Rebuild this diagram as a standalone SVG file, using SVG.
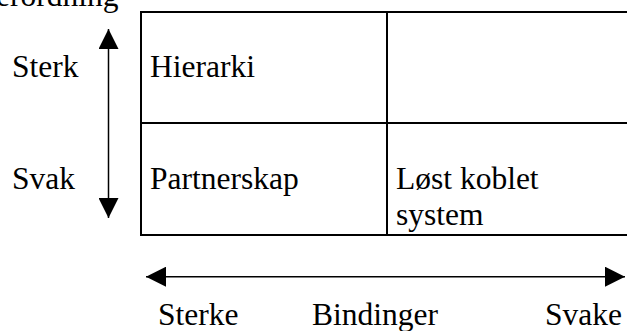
<svg xmlns="http://www.w3.org/2000/svg" width="627" height="331" viewBox="0 0 627 331">
  <style>
    .t { font-family: 'Liberation Serif', 'DejaVu Serif', serif; font-size: 31.5px; fill: #000; }
    .cell { fill: none; stroke: #000; stroke-width: 2; }
    .axis { fill: none; stroke: #000; stroke-width: 1.5; }
  </style>
  <defs>
    <marker id="head" viewBox="0 0 20 20" refX="20" refY="10" markerWidth="20" markerHeight="20" markerUnits="userSpaceOnUse" orient="auto-start-reverse">
      <path d="M0,0 L20,10 L0,20 Z" fill="#000"/>
    </marker>
  </defs>

  <!-- heading, cut by the top edge -->
  <text class="t" font-family="Liberation Serif, serif" x="-4" y="6">erordning</text>

  <!-- matrix cells -->
  <g id="cell-hierarki">
    <rect class="cell" x="141" y="12" width="246" height="111"/>
    <text class="t" font-family="Liberation Serif, serif" x="150" y="77">Hierarki</text>
  </g>
  <g id="cell-empty">
    <rect class="cell" x="387" y="12" width="260" height="111"/>
  </g>
  <g id="cell-partnerskap">
    <rect class="cell" x="141" y="123" width="246" height="112"/>
    <text class="t" font-family="Liberation Serif, serif" x="150" y="189">Partnerskap</text>
  </g>
  <g id="cell-lost-koblet">
    <rect class="cell" x="387" y="123" width="260" height="112"/>
    <text class="t" font-family="Liberation Serif, serif" x="396" y="189">Løst koblet</text>
    <text class="t" font-family="Liberation Serif, serif" x="396" y="225">system</text>
  </g>

  <!-- axis labels -->
  <g id="label-sterk"><text class="t" font-family="Liberation Serif, serif" x="12" y="77">Sterk</text></g>
  <g id="label-svak"><text class="t" font-family="Liberation Serif, serif" x="12" y="189">Svak</text></g>
  <g id="label-sterke"><text class="t" font-family="Liberation Serif, serif" x="158" y="325">Sterke</text></g>
  <g id="label-bindinger"><text class="t" font-family="Liberation Serif, serif" x="312" y="325">Bindinger</text></g>
  <g id="label-svake"><text class="t" font-family="Liberation Serif, serif" x="545" y="325">Svake</text></g>

  <!-- double-headed axes -->
  <g id="connectors">
    <line class="axis" x1="108.5" y1="29" x2="108.5" y2="218" marker-start="url(#head)" marker-end="url(#head)"/>
    <line class="axis" x1="146" y1="276.7" x2="625" y2="276.7" marker-start="url(#head)" marker-end="url(#head)"/>
  </g>
</svg>
